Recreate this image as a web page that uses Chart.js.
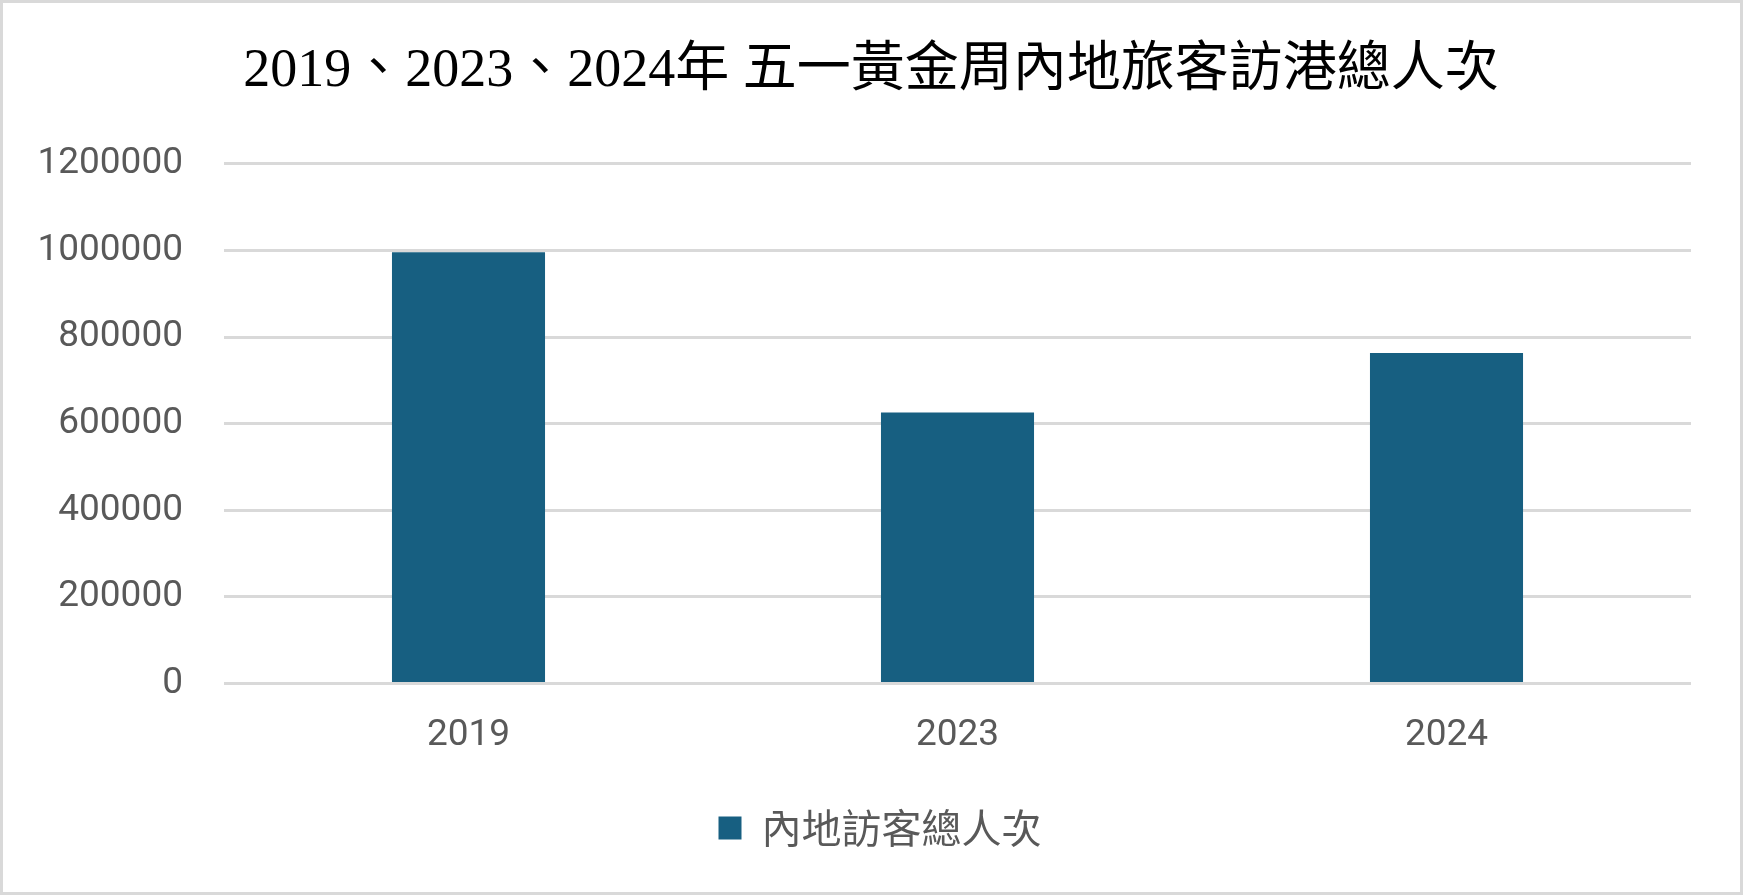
<!DOCTYPE html>
<html>
<head>
<meta charset="utf-8">
<script src="https://cdn.jsdelivr.net/npm/chart.js@4.4.1/dist/chart.umd.min.js"></script>
<style>
  html, body { margin: 0; padding: 0; background: #fff; }
  .wrapper {
    width: 1743px; height: 895px;
    box-sizing: border-box;
    border: 3px solid #d9d9d9;
    background: #fff;
  }
  .wrapper div { width: 1737px; height: 889px; position: relative; }
</style>
</head>
<body>
<div class="wrapper"><div><canvas id="graph"></canvas></div></div>
<script>
// chart data
const years = ['2019', '2023', '2024'];
const visitors = [996000, 625600, 763000];
const seriesName = '內地訪客總人次';
const chartTitle = '2019、2023、2024年 五一黃金周內地旅客訪港總人次';
const yTicks = [0, 200000, 400000, 600000, 800000, 1000000, 1200000];

const barColor = '#175f81';
const gridColor = '#d9d9d9';
const labelColor = '#595959';

let data = {
  labels: years,
  datasets: [{
    label: seriesName,
    data: visitors,
    backgroundColor: barColor,
    borderWidth: 0,
    barPercentage: 0.313,
    categoryPercentage: 1
  }]
};

// title and legend sit right of the plot-padding centre in the original
const boxShift = {
  id: 'boxShift',
  afterLayout(chart) {
    if (chart.legend) {
      chart.legend.left += 33;
      chart.legend.right += 33;
    }
    if (chart.titleBlock) {
      chart.titleBlock.left += 24;
      chart.titleBlock.right += 24;
    }
  }
};

const config = {
  type: 'bar',
  data,
  plugins: [boxShift],
  options: {
    responsive: true,
    maintainAspectRatio: false,
    animation: false,
    layout: {
      padding: { left: 0, right: 49, top: 0, bottom: 34 }
    },
    plugins: {
      title: {
        display: true,
        text: chartTitle,
        color: '#000',
        font: { family: '"Liberation Serif", "Noto Sans CJK TC", serif', size: 54, weight: 'normal' },
        padding: { top: 36, bottom: 60 }
      },
      legend: {
        position: 'bottom',
        labels: {
          color: labelColor,
          boxWidth: 23,
          boxHeight: 23,
          padding: 20,
          font: { family: '"Noto Sans CJK TC", sans-serif', size: 40 }
        }
      },
      tooltip: { enabled: false }
    },
    scales: {
      x: {
        grid: { display: false, drawTicks: false },
        border: { display: false },
        ticks: {
          color: labelColor,
          padding: 30,
          font: { family: 'Roboto, sans-serif', size: 37 }
        }
      },
      y: {
        min: 0,
        max: 1200000,
        afterBuildTicks: function (axis) {
          axis.ticks = yTicks.map(v => ({ value: v }));
        },
        afterFit: function (axis) {
          axis.width = 221;
        },
        grid: { color: gridColor, lineWidth: 3, drawTicks: false },
        border: { display: false },
        ticks: {
          color: labelColor,
          padding: 41,
          font: { family: 'Roboto, sans-serif', size: 37 },
          callback: function (value) { return String(value); }
        }
      }
    }
  }
};

const dayChart = new Chart(document.getElementById('graph'), config);
</script>
</body>
</html>
